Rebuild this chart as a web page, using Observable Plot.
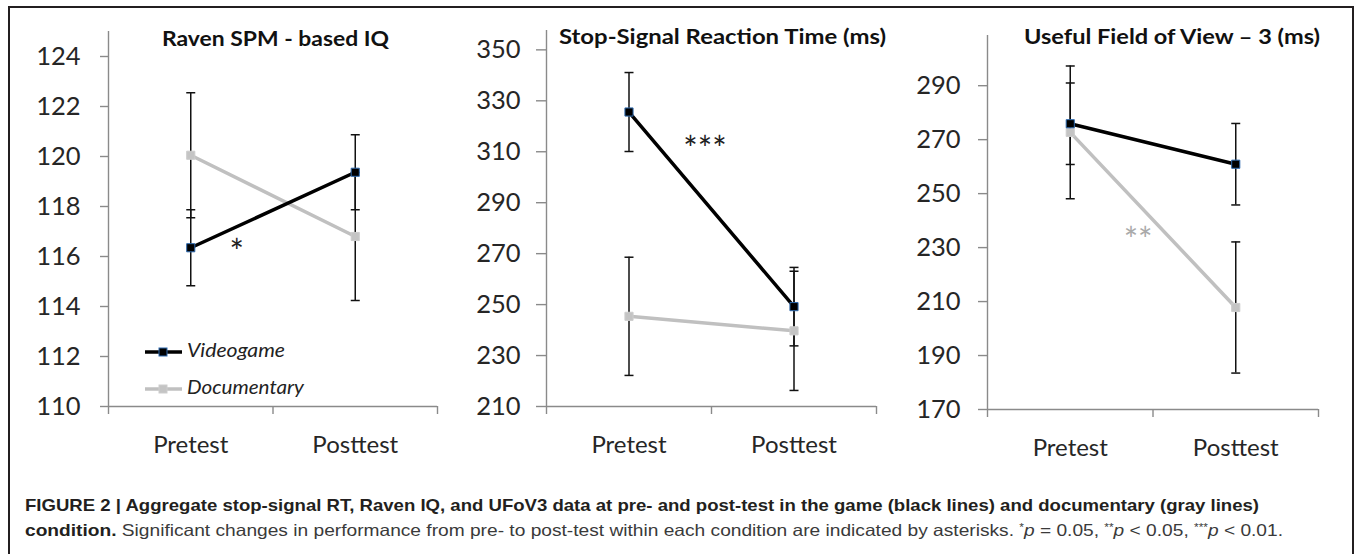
<!DOCTYPE html>
<html><head><meta charset="utf-8">
<script src="https://cdn.jsdelivr.net/npm/d3@7"></script>
<script src="https://cdn.jsdelivr.net/npm/@observablehq/plot@0.6"></script>
<style>
body{margin:0;background:#fff;}
#fig{position:relative;width:1355px;height:554px;overflow:hidden;background:#fff;font-family:Lato,sans-serif;}
#frame{position:absolute;left:8px;top:6px;width:1346px;height:620px;border:2px solid #231f20;box-sizing:border-box;}
.panel{position:absolute;top:0;}
#overlay{position:absolute;left:0;top:0;}
.cap{position:absolute;left:25px;font-family:"Liberation Sans",Arial,sans-serif;font-size:16.5px;white-space:nowrap;transform-origin:0 0;line-height:1;color:#231f20;}
.cap .reg{font-weight:normal;color:#3a3a3a;}
.cap sup{font-size:0.62em;vertical-align:0.45em;line-height:0;}
</style></head><body>
<div id="fig"><div id="frame"></div></div>
<script>
// ---------- data ----------
const categories = ["Pretest", "Posttest"];
const seriesNames = ["Videogame", "Documentary"];

const ravenTitle = "Raven SPM - based IQ";
const ravenTicks = [110, 112, 114, 116, 118, 120, 122, 124];
const ravenVideogame = [116.35, 119.37];
const ravenVideogameErr = [1.52, 1.5];
const ravenDocumentary = [120.05, 116.8];
const ravenDocumentaryErr = [2.5, 2.56];

const ssrtTitle = "Stop-Signal Reaction Time (ms)";
const ssrtTicks = [210, 230, 250, 270, 290, 310, 330, 350];
const ssrtVideogame = [325.6, 249.2];
const ssrtVideogameErr = [15.5, 15.4];
const ssrtDocumentary = [245.4, 239.7];
const ssrtDocumentaryErr = [23.2, 23.4];

const ufovTitle = "Useful Field of View \u2013 3 (ms)";
const ufovTicks = [170, 190, 210, 230, 250, 270, 290];
const ufovVideogame = [275.9, 260.9];
const ufovVideogameErr = [15.1, 15.1];
const ufovDocumentary = [272.7, 207.8];
const ufovDocumentaryErr = [24.6, 24.3];

// significance markers: label, position along category axis (0..2), value
const sigLabels = ["*", "***", "**"];
const sigX = [0.78, 0.96, 0.91];
const sigY = [116.5, 314.4, 235.8];

const captionLine1 = "FIGURE 2 | Aggregate stop-signal RT, Raven IQ, and UFoV3 data at pre- and post-test in the game (black lines) and documentary (gray lines)";

// ---------- drawing ----------
const fig = document.getElementById("fig");
const AXIS = "#8a8a8a", TEXT = "#262626", BLACK = "#000", GRAY = "#c0c0c0";
const capSymbol = {draw(ctx, size) { const w = Math.sqrt(size / Math.PI); ctx.moveTo(-w, 0); ctx.lineTo(w, 0); }};

function panel(cfg) {
  const H = 470;
  const rows = [];
  categories.forEach((c, i) => {
    rows.push({series: "Documentary", i, v: cfg.doc[i], e: cfg.docErr[i]});
    rows.push({series: "Videogame", i, v: cfg.vg[i], e: cfg.vgErr[i]});
  });
  const xpos = d => d.i + 0.5;
  const caps = rows.flatMap(d => [{...d, y: d.v - d.e}, {...d, y: d.v + d.e}]);
  const docRows = rows.filter(d => d.series === "Documentary");
  const vgRows = rows.filter(d => d.series === "Videogame");
  const sig = [{label: sigLabels[cfg.k], x: sigX[cfg.k], y: sigY[cfg.k]}];
  const svg = Plot.plot({
    width: cfg.axisRight + 8 - cfg.left, height: H,
    marginLeft: cfg.axisLeft - cfg.left, marginRight: 8,
    marginTop: cfg.top, marginBottom: H - cfg.bottom,
    style: {background: "transparent", fontFamily: "Lato, sans-serif", fontSize: "24px", color: TEXT, overflow: "visible"},
    x: {domain: [0, categories.length], axis: null, label: null},
    y: {domain: cfg.domain, axis: null, label: null},
    marks: [
      Plot.ruleX([0], {stroke: AXIS, strokeWidth: 1.4}),
      Plot.ruleY([cfg.domain[0]], {stroke: AXIS, strokeWidth: 1.4}),
      Plot.axisY({ticks: cfg.ticks, tickSize: cfg.tickSize, tickPadding: cfg.axisLeft - cfg.tickSize - cfg.labelRight,
                  stroke: AXIS, strokeWidth: 1.4, tickFormat: d => String(d), label: null, fontSize: 25.5}),
      Plot.axisX({ticks: d3.range(categories.length + 1), tickSize: 8, tickFormat: () => "", stroke: AXIS, strokeWidth: 1.4, label: null}),
      Plot.axisX({ticks: categories.map((c, i) => i + 0.5), tickSize: 0, tickPadding: 29,
                  tickFormat: t => categories[Math.floor(t)], label: null, fontSize: 24}),
      Plot.ruleX(rows, {x: xpos, y1: d => d.v - d.e, y2: d => d.v + d.e, stroke: "#111", strokeWidth: 1.5}),
      Plot.dot(caps, {x: xpos, y: "y", symbol: capSymbol, r: 4.5, stroke: "#111", strokeWidth: 1.5}),
      Plot.line(docRows, {x: xpos, y: "v", stroke: GRAY, strokeWidth: 3.5}),
      Plot.line(vgRows, {x: xpos, y: "v", stroke: BLACK, strokeWidth: 3.5}),
      Plot.dot(docRows, {x: xpos, y: "v", symbol: "square", r: 4.6, fill: "#c4c4c4", stroke: "#cdcdcd", strokeWidth: 1}),
      Plot.dot(vgRows, {x: xpos, y: "v", symbol: "square", r: 4.6, fill: "#000", stroke: "#2f6bb0", strokeWidth: 1}),
      Plot.text(sig, {x: "x", y: "y", text: "label", fill: cfg.sigColor, fontSize: 34, dy: 9.5, letterSpacing: 2})
    ]
  });
  svg.classList.add("panel");
  svg.style.position = "absolute";
  svg.style.left = cfg.left + "px";
  svg.style.top = "0px";
  fig.appendChild(svg);
}

panel({k: 0, left: 0, axisLeft: 108, axisRight: 437, top: 31, bottom: 406, domain: [110, 125], ticks: ravenTicks,
       tickSize: 8, labelRight: 80, vg: ravenVideogame, vgErr: ravenVideogameErr, doc: ravenDocumentary, docErr: ravenDocumentaryErr, sigColor: "#222"});
panel({k: 1, left: 445, axisLeft: 546, axisRight: 876, top: 30, bottom: 406, domain: [210, 357.6], ticks: ssrtTicks,
       tickSize: 10, labelRight: 520, vg: ssrtVideogame, vgErr: ssrtVideogameErr, doc: ssrtDocumentary, docErr: ssrtDocumentaryErr, sigColor: "#222"});
panel({k: 2, left: 885, axisLeft: 987, axisRight: 1318, top: 35, bottom: 409, domain: [170, 308.6], ticks: ufovTicks,
       tickSize: 9, labelRight: 960, vg: ufovVideogame, vgErr: ufovVideogameErr, doc: ufovDocumentary, docErr: ufovDocumentaryErr, sigColor: "#aaa"});

// overlay: titles + legend
const ov = d3.select(fig).append("svg").attr("id", "overlay").attr("width", 1355).attr("height", 470)
  .style("font-family", "Lato, sans-serif");
const titles = [
  {text: ravenTitle, x: 162, w: 227, y: 46},
  {text: ssrtTitle, x: 559, w: 327, y: 43.5},
  {text: ufovTitle, x: 1024, w: 296, y: 43.5}
];
ov.selectAll("text.title").data(titles).join("text").attr("class", "title")
  .attr("x", d => d.x).attr("y", d => d.y).attr("textLength", d => d.w).attr("lengthAdjust", "spacingAndGlyphs")
  .attr("font-weight", "bold").attr("font-size", 20.5).attr("fill", "#111").text(d => d.text);

const legendRows = [
  {name: seriesNames[0], y: 352, stroke: BLACK, fill: "#000", mstroke: "#2f6bb0", w: 98},
  {name: seriesNames[1], y: 389, stroke: GRAY, fill: "#c4c4c4", mstroke: "#cdcdcd", w: 117}
];
const lg = ov.append("g");
lg.selectAll("line").data(legendRows).join("line")
  .attr("x1", 145).attr("x2", 182).attr("y1", d => d.y).attr("y2", d => d.y)
  .attr("stroke", d => d.stroke).attr("stroke-width", 3.5);
lg.selectAll("rect").data(legendRows).join("rect")
  .attr("x", 159).attr("y", d => d.y - 4).attr("width", 8).attr("height", 8)
  .attr("fill", d => d.fill).attr("stroke", d => d.mstroke);
lg.selectAll("text").data(legendRows).join("text")
  .attr("x", 187).attr("y", d => d.y + 5).attr("font-style", "italic").attr("font-size", 20)
  .attr("textLength", d => d.w).attr("lengthAdjust", "spacingAndGlyphs").attr("fill", "#222").text(d => d.name);

// caption
function addCap(html, top, target) {
  const div = document.createElement("div");
  div.className = "cap";
  div.style.top = top + "px";
  div.innerHTML = html;
  fig.appendChild(div);
  const w = div.getBoundingClientRect().width;
  div.style.transform = `scaleX(${target / w})`;
}
addCap(`<b>${captionLine1}</b>`, 497, 1234);
addCap(`<b>condition.</b><span class="reg"> Significant changes in performance from pre- to post-test within each condition are indicated by asterisks. <sup>*</sup><i>p</i> = 0.05, <sup>**</sup><i>p</i> &lt; 0.05, <sup>***</sup><i>p</i> &lt; 0.01.</span>`, 522, 1258);
</script>
</body></html>
